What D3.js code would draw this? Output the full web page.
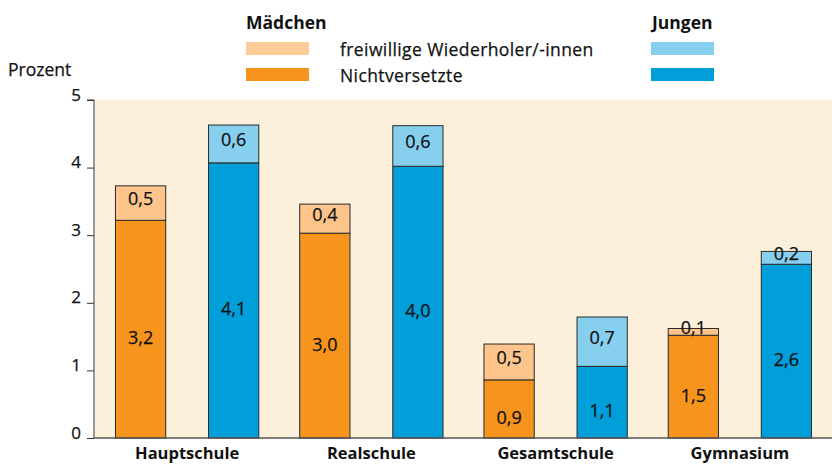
<!DOCTYPE html>
<html><head>
<meta charset="utf-8">
<script src="https://d3js.org/d3.v7.min.js"></script>
<style>
  body { margin: 0; background: #fff; }
  text { font-family: "Open Sans", "DejaVu Sans", sans-serif; fill: #111; }
  .reg { stroke: #111; stroke-width: 0.25px; }
</style>
</head>
<body>
<svg id="chart" width="832" height="466"></svg>
<script>
  // data
  const schools = ["Hauptschule", "Realschule", "Gesamtschule", "Gymnasium"];
  const maedchenNicht = [3.22, 3.03, 0.86, 1.52];
  const maedchenFrei  = [0.51, 0.43, 0.53, 0.10];
  const jungenNicht   = [4.07, 4.02, 1.06, 2.57];
  const jungenFrei    = [0.56, 0.60, 0.73, 0.19];
  const yTicks = [0, 1, 2, 3, 4, 5];

  const colors = {
    mNicht: "#f7941d", mFrei: "#fdc58c", mFreiLeg: "#fdcc99",
    jNicht: "#009fda", jFrei: "#87cfef"
  };

  const svg = d3.select("svg#chart");
  const plot = {left: 95, right: 832, top: 100, bottom: 438};

  const y = d3.scaleLinear().domain([0, 5]).range([plot.bottom, plot.top]);
  const xGroup = d3.scaleBand().domain(schools).range([plot.left, plot.right]);
  const xSub = d3.scaleBand().domain(["m", "j"]).range([0, xGroup.bandwidth()])
                 .paddingInner(0.46).paddingOuter(0.22);
  const fmt = v => d3.format(".1f")(v).replace(".", ",");

  // background
  svg.append("rect")
     .attr("x", plot.left).attr("y", plot.top)
     .attr("width", plot.right - plot.left).attr("height", plot.bottom - plot.top)
     .attr("fill", "#fdf0db");

  // build segments
  let segs = [];
  schools.forEach((s, i) => {
    segs.push({s: s, who: "m", y0: 0, y1: maedchenNicht[i], v: maedchenNicht[i], c: colors.mNicht, top: false});
    segs.push({s: s, who: "m", y0: maedchenNicht[i], y1: maedchenNicht[i] + maedchenFrei[i], v: maedchenFrei[i], c: colors.mFrei, top: true});
    segs.push({s: s, who: "j", y0: 0, y1: jungenNicht[i], v: jungenNicht[i], c: colors.jNicht, top: false});
    segs.push({s: s, who: "j", y0: jungenNicht[i], y1: jungenNicht[i] + jungenFrei[i], v: jungenFrei[i], c: colors.jFrei, top: true});
  });

  const bars = svg.append("g");
  bars.selectAll("rect").data(segs).join("rect")
      .attr("x", d => xGroup(d.s) + xSub(d.who))
      .attr("width", xSub.bandwidth())
      .attr("y", d => y(d.y1))
      .attr("height", d => y(d.y0) - y(d.y1))
      .attr("fill", d => d.c)
      .attr("stroke", "#2a2a2a")
      .attr("stroke-width", 1);

  bars.selectAll("text").data(segs).join("text")
      .attr("class", "reg")
      .attr("x", d => xGroup(d.s) + xSub(d.who) + xSub.bandwidth() / 2)
      .attr("y", d => (y(d.y0) + y(d.y1)) / 2 + (d.top ? -5 : 8))
      .attr("text-anchor", "middle")
      .attr("dominant-baseline", "central")
      .attr("font-size", 18)
      .text(d => fmt(d.v));

  // y axis
  const yAxis = svg.append("g").attr("transform", "translate(" + (plot.left - 1) + ",0)")
      .call(d3.axisLeft(y).tickValues(yTicks).tickSize(7).tickPadding(6).tickFormat(d3.format("d")));
  yAxis.select(".domain").attr("stroke", "#333").attr("d", "M-7," + plot.top + "H0V" + plot.bottom);
  yAxis.selectAll(".tick line").attr("stroke", "#333");
  yAxis.selectAll(".tick text").attr("class", "reg").attr("font-size", 17).attr("dy", "0")
       .attr("font-family", "\"Open Sans\", sans-serif").attr("fill", "#111");

  // baseline
  svg.append("line")
     .attr("x1", plot.left - 1).attr("x2", plot.right)
     .attr("y1", y(0)).attr("y2", y(0))
     .attr("stroke", "#555").attr("stroke-width", 1.5);

  // category labels
  svg.append("g").selectAll("text").data(schools).join("text")
     .attr("x", d => xGroup(d) + xGroup.bandwidth() / 2)
     .attr("y", 459)
     .attr("text-anchor", "middle")
     .attr("font-size", 16.5)
     .attr("font-weight", "bold")
     .text(d => d);

  svg.append("text").attr("class", "reg").attr("x", 8).attr("y", 76).attr("font-size", 17.5).text("Prozent");

  // legend
  const legend = svg.append("g");
  legend.append("text").attr("x", 246).attr("y", 29).attr("font-size", 17.5).attr("font-weight", "bold").text("Mädchen");
  legend.append("text").attr("x", 652).attr("y", 29).attr("font-size", 17.5).attr("font-weight", "bold").text("Jungen");
  const legRows = [
    {label: "freiwillige Wiederholer/-innen", m: colors.mFreiLeg, j: colors.jFrei, y: 42},
    {label: "Nichtversetzte", m: colors.mNicht, j: colors.jNicht, y: 68}
  ];
  legRows.forEach(r => {
    legend.append("rect").attr("x", 246).attr("y", r.y).attr("width", 63).attr("height", 13).attr("fill", r.m);
    legend.append("rect").attr("x", 651).attr("y", r.y).attr("width", 63).attr("height", 13).attr("fill", r.j);
    legend.append("text").attr("class", "reg").attr("x", 340).attr("y", r.y + 7).attr("dominant-baseline", "central")
          .attr("font-size", 17.5).attr("letter-spacing", 0.4).text(r.label);
  });
</script>
</body>
</html>
